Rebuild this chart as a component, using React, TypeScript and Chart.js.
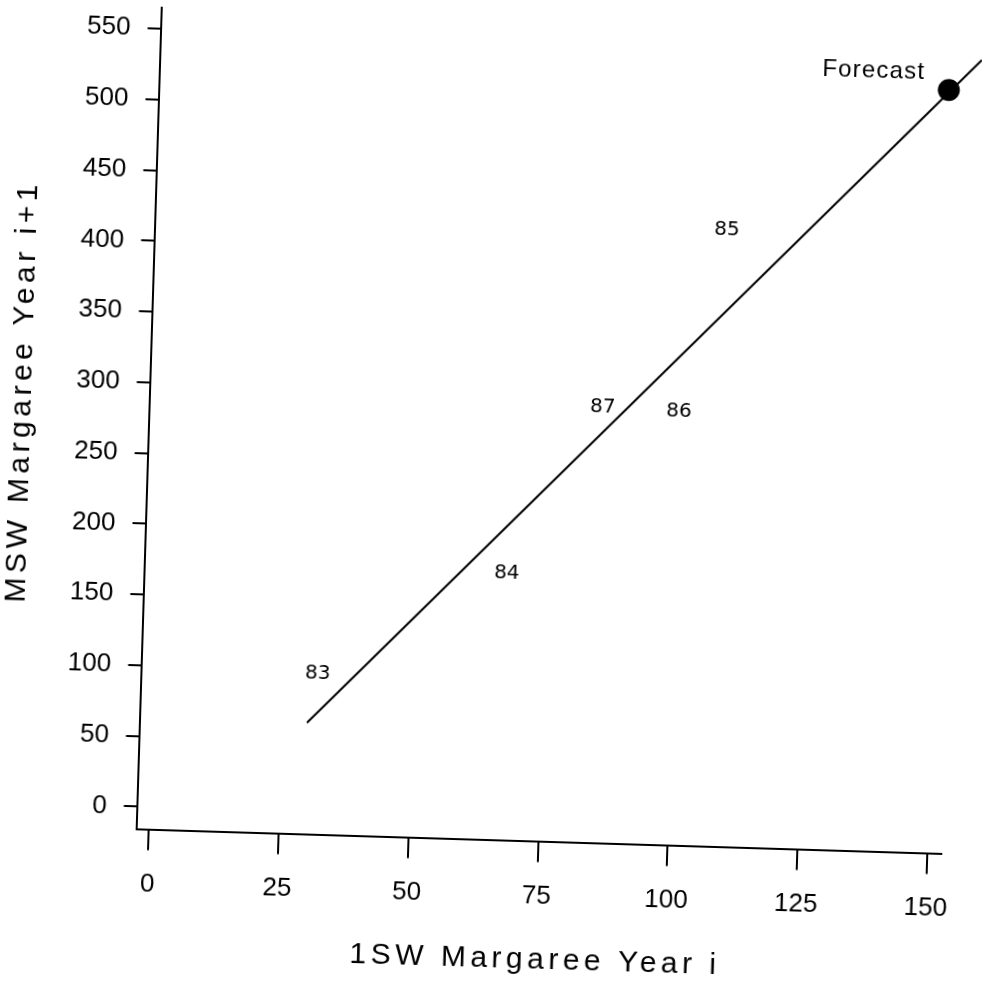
import { useEffect, useRef } from "react";
import { Chart, registerables } from "chart.js";

Chart.register(...registerables);

// ---- data ----
const X_TICKS = [0, 25, 50, 75, 100, 125, 150];
const Y_TICKS = [0, 50, 100, 150, 200, 250, 300, 350, 400, 450, 500, 550];

const YEAR_LABELS = ["83", "84", "85", "86", "87"];
const YEAR_X = [31.6, 67.4, 107.8, 99.6, 84.9];
const YEAR_Y = [97.8, 172.9, 420.2, 291.0, 292.2];

const FIT_X = [29.8, 155.9];
const FIT_Y = [63.0, 545.7];

const FORECAST_X = [149.7];
const FORECAST_Y = [523.8];
const FORECAST_LABEL = "Forecast";

const X_TITLE = "1SW Margaree Year i";
const Y_TITLE = "MSW Margaree Year i+1";

const annotatePlugin = {
  id: "annotate",
  afterDatasetsDraw(chart: any) {
    const ctx = chart.ctx as CanvasRenderingContext2D;
    ctx.save();
    ctx.fillStyle = "#000";
    ctx.textAlign = "center";
    ctx.textBaseline = "middle";
    ctx.font = '20px "DejaVu Sans"';
    const meta = chart.getDatasetMeta(1);
    meta.data.forEach((el: any, i: number) => {
      ctx.fillText(YEAR_LABELS[i], el.x, el.y);
    });
    const fm = chart.getDatasetMeta(2).data[0];
    ctx.font = '24px "Liberation Sans"';
    (ctx as any).letterSpacing = "1.2px";
    ctx.fillText(FORECAST_LABEL, fm.x - 75.6, fm.y - 16.7);
    ctx.restore();
  },
  afterDraw(chart: any) {
    const ctx = chart.ctx as CanvasRenderingContext2D;
    const { left, right, top, bottom } = chart.chartArea;
    ctx.save();
    ctx.fillStyle = "#000";
    ctx.textAlign = "center";
    ctx.textBaseline = "middle";
    ctx.font = '30px "Liberation Sans"';
    (ctx as any).letterSpacing = "4.5px";
    ctx.fillText(X_TITLE, (left + right) / 2, bottom + 119);
    ctx.translate(left - 126.6, top + 387.5);
    ctx.rotate(-Math.PI / 2);
    ctx.fillText(Y_TITLE, 0, 0);
    ctx.restore();
  },
};

export default function App() {
  const ref = useRef<HTMLCanvasElement | null>(null);

  useEffect(() => {
    if (!ref.current) return;
    const chart = new Chart(ref.current, {
      type: "scatter",
      data: {
        datasets: [
          {
            label: "fit",
            data: FIT_X.map((x, i) => ({ x, y: FIT_Y[i] })),
            showLine: true,
            borderColor: "#000",
            borderWidth: 2,
            pointRadius: 0,
            clip: false as any,
          },
          {
            label: "years",
            data: YEAR_X.map((x, i) => ({ x, y: YEAR_Y[i] })),
            pointRadius: 0,
            showLine: false,
          },
          {
            label: "forecast",
            data: FORECAST_X.map((x, i) => ({ x, y: FORECAST_Y[i] })),
            pointRadius: 11,
            backgroundColor: "#000",
            borderWidth: 0,
            clip: false as any,
          },
        ],
      },
      options: {
        responsive: false,
        maintainAspectRatio: false,
        animation: false,
        layout: { padding: { top: 18.2, right: 30.2, left: 0, bottom: 0 } },
        plugins: { legend: { display: false }, tooltip: { enabled: false } },
        scales: {
          x: {
            type: "linear",
            position: "bottom",
            min: -2.47,
            max: 152.7,
            afterBuildTicks: (s: any) => {
              s.ticks = X_TICKS.map((v) => ({ value: v }));
            },
            afterFit: (s: any) => {
              s.height = 152.5;
              s.paddingLeft = 0;
              s.paddingRight = 0;
            },
            grid: {
              drawOnChartArea: false,
              drawTicks: true,
              tickLength: 21,
              color: "#000",
              lineWidth: 2,
            },
            border: { display: true, color: "#000", width: 2 },
            ticks: {
              color: "#000",
              font: { family: "Liberation Sans", size: 26 },
              padding: 19,
              maxRotation: 0,
              autoSkip: false,
            },
          },
          y: {
            type: "linear",
            position: "left",
            min: -15.6,
            max: 564.8,
            afterBuildTicks: (s: any) => {
              s.ticks = Y_TICKS.map((v) => ({ value: v }));
            },
            afterFit: (s: any) => {
              s.width = 146.5;
              s.paddingTop = 0;
              s.paddingBottom = 0;
            },
            grid: {
              drawOnChartArea: false,
              drawTicks: true,
              tickLength: 13,
              color: "#000",
              lineWidth: 2,
            },
            border: { display: true, color: "#000", width: 2 },
            ticks: {
              color: "#000",
              font: { family: "Liberation Sans", size: 26 },
              padding: 17,
              autoSkip: false,
            },
          },
        },
      },
      plugins: [annotatePlugin],
    });
    return () => chart.destroy();
  }, []);

  return (
    <div
      style={{
        position: "fixed",
        left: 0,
        top: 0,
        width: 982,
        height: 992,
        overflow: "hidden",
        background: "#fff",
      }}
    >
      <div
        style={{
          position: "absolute",
          left: 0,
          top: 0,
          width: 982,
          height: 992,
          transform: "rotate(1.75deg)",
          transformOrigin: "491px 496px",
        }}
      >
        <canvas ref={ref} width={982} height={992} style={{ width: 982, height: 992, display: "block" }} />
      </div>
    </div>
  );
}
